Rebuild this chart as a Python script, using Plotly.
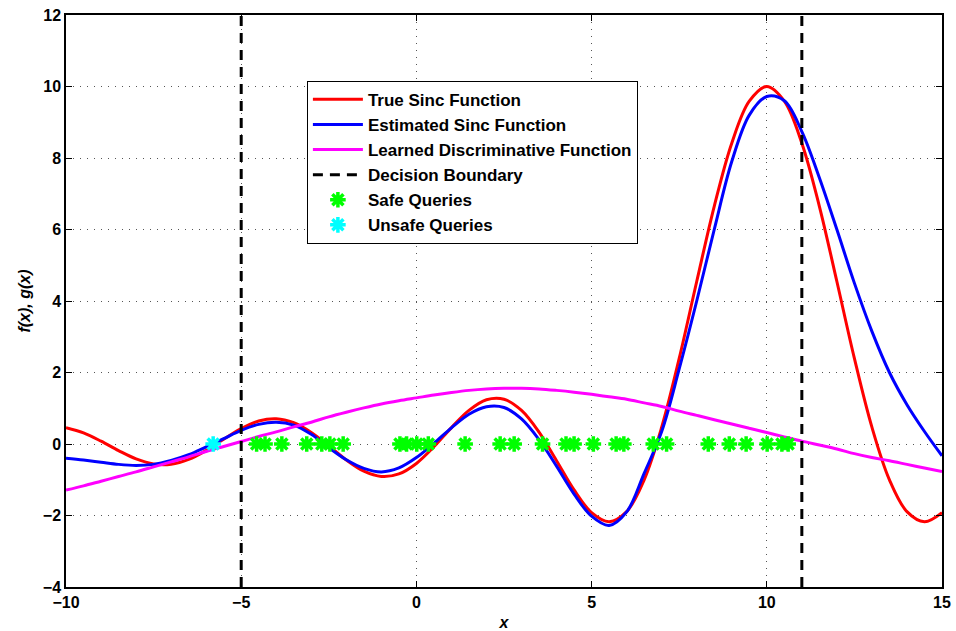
import plotly.graph_objects as go

# sample positions (x) for curves
x_grid = [-10.0, -9.5, -9.0, -8.5, -8.0, -7.5, -7.0, -6.5, -6.0, -5.5,
          -5.0, -4.5, -4.0, -3.5, -3.0, -2.5, -2.0, -1.5, -1.0, -0.5,
          0.0, 0.5, 1.0, 1.5, 2.0, 2.5, 3.0, 3.5, 4.0, 4.5,
          5.0, 5.5, 6.0, 6.5, 7.0, 7.5, 8.0, 8.5, 9.0, 9.5,
          10.0, 10.5, 11.0, 11.5, 12.0, 12.5, 13.0, 13.5, 14.0, 14.5, 15.0]

true_sinc = [0.456, 0.310, 0.079, -0.185, -0.417, -0.558, -0.565, -0.431, -0.180, 0.134,
             0.433, 0.645, 0.708, 0.596, 0.323, -0.053, -0.447, -0.761, -0.909, -0.838,
             -0.544, -0.079, 0.458, 0.939, 1.237, 1.251, 0.939, 0.331, -0.466, -1.283,
             -1.918, -2.172, -1.892, -1.002, 0.470, 2.394, 4.546, 6.650, 8.415, 9.589,
             10.0, 9.589, 8.415, 6.650, 4.546, 2.394, 0.470, -1.002, -1.892, -2.172, -1.918]

est_sinc = [-0.40, -0.45, -0.51, -0.57, -0.60, -0.57, -0.46, -0.30, -0.08, 0.15,
            0.38, 0.55, 0.61, 0.53, 0.27, -0.10, -0.44, -0.68, -0.78, -0.67,
            -0.38, 0.02, 0.45, 0.83, 1.04, 1.02, 0.70, 0.12, -0.62, -1.40,
            -2.02, -2.28, -1.90, -0.82, 0.35, 2.10, 4.00, 6.00, 7.90, 9.20,
            9.72, 9.60, 8.74, 7.45, 6.00, 4.50, 3.15, 2.00, 1.10, 0.35, -0.33]

disc_func = [-1.29, -1.17, -1.04, -0.91, -0.78, -0.64, -0.50, -0.36, -0.21, -0.07,
             0.07, 0.21, 0.34, 0.48, 0.61, 0.76, 0.89, 1.01, 1.12, 1.21,
             1.29, 1.37, 1.44, 1.50, 1.54, 1.56, 1.56, 1.54, 1.50, 1.45,
             1.39, 1.32, 1.25, 1.15, 1.05, 0.92, 0.80, 0.68, 0.56, 0.44,
             0.32, 0.20, 0.08, -0.03, -0.14, -0.27, -0.38, -0.47, -0.57, -0.67, -0.77]

boundary_x = [-5.0, 11.0]
y_range = [-4, 12]

safe_x = [-4.56, -4.32, -3.84, -3.13, -2.70, -2.47, -2.09, -0.47, -0.28, 0.01, 0.34,
          1.39, 2.39, 2.79, 3.60, 4.27, 4.50, 5.05, 5.70, 5.92, 6.76, 7.14,
          8.33, 8.93, 9.41, 10.01, 10.43, 10.61]
safe_y = [0.0] * len(safe_x)
unsafe_x = [-5.80]
unsafe_y = [0.0]

x_ticks = [-10, -5, 0, 5, 10, 15]
y_ticks = [-4, -2, 0, 2, 4, 6, 8, 10, 12]

FONT = "Liberation Sans, Arial, Helvetica, sans-serif"

fig = go.Figure()
fig.add_trace(go.Scatter(x=x_grid, y=true_sinc, mode="lines", name="True Sinc Function",
                         line=dict(color="#FF0000", width=3, shape="spline")))
fig.add_trace(go.Scatter(x=x_grid, y=est_sinc, mode="lines", name="Estimated Sinc Function",
                         line=dict(color="#0000FF", width=3, shape="spline")))
fig.add_trace(go.Scatter(x=x_grid, y=disc_func, mode="lines", name="Learned Discriminative Function",
                         line=dict(color="#FF00FF", width=3, shape="spline")))
bx, by = [], []
for i, b in enumerate(boundary_x):
    bx += [b, b]
    by += y_range
    if i < len(boundary_x) - 1:
        bx.append(None)
        by.append(None)
fig.add_trace(go.Scatter(x=bx, y=by, mode="lines", name="Decision Boundary",
                         line=dict(color="black", width=3, dash="10px,7px")))
fig.add_trace(go.Scatter(x=safe_x, y=safe_y, mode="markers", name="Safe Queries",
                         marker=dict(symbol="asterisk-open", size=13, color="#00FF00",
                                     line=dict(color="#00FF00", width=3.5))))
fig.add_trace(go.Scatter(x=unsafe_x, y=unsafe_y, mode="markers", name="Unsafe Queries",
                         marker=dict(symbol="asterisk-open", size=13, color="#00FFFF",
                                     line=dict(color="#00FFFF", width=3.5))))

axis_common = dict(showline=True, linecolor="black", linewidth=1.5, mirror="ticks",
                   ticks="inside", ticklen=6, tickcolor="black", automargin=False,
                   showgrid=True, gridcolor="#555555", griddash="1px,6px", gridwidth=1,
                   zeroline=False,
                   tickfont=dict(family=FONT, size=16, color="black", weight="bold"))

fig.update_layout(
    width=956, height=631,
    margin=dict(l=66, r=14, t=15, b=44, autoexpand=False),
    paper_bgcolor="white", plot_bgcolor="white",
    font=dict(family=FONT, color="black"),
    showlegend=True,
    legend=dict(x=0.275, y=0.885, xanchor="left", yanchor="top", itemwidth=50,
                bgcolor="white", bordercolor="black", borderwidth=1,
                font=dict(family=FONT, size=17, color="black", weight="bold")),
    xaxis=dict(range=[-10, 15], tickvals=x_ticks,
               title=dict(text="<b><i>x</i></b>", font=dict(family=FONT, size=16), standoff=8),
               **axis_common),
    yaxis=dict(range=y_range, tickvals=y_ticks,
               title=dict(text="<b><i>f(x), g(x)</i></b>", font=dict(family=FONT, size=16), standoff=8),
               **axis_common),
)

fig.write_html("out.html")
